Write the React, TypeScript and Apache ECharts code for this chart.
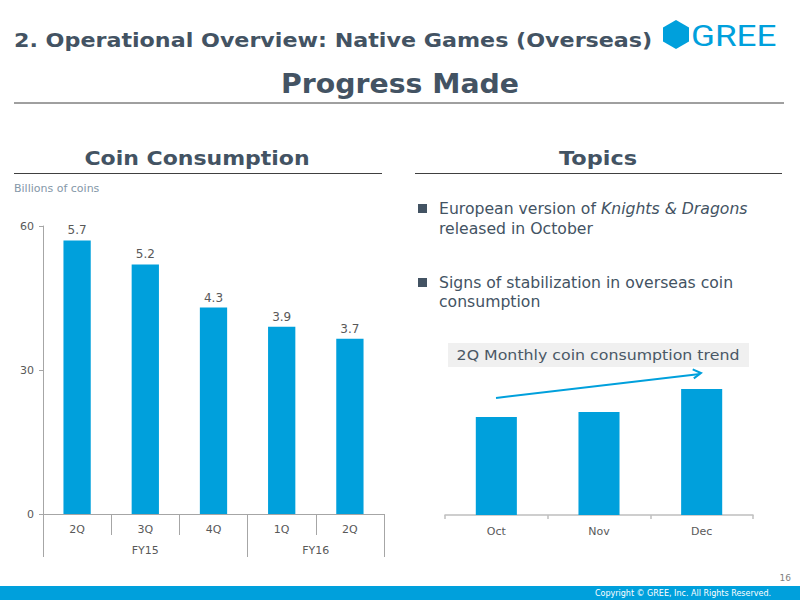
import React, { useEffect, useRef } from "react";
import * as echarts from "echarts";

const quarters = ["2Q", "3Q", "4Q", "1Q", "2Q"];
const fiscalYears = ["FY15", "FY16"];
const coinValues = [57, 52, 43, 39, 36.5];
const coinLabels = ["5.7", "5.2", "4.3", "3.9", "3.7"];
const yTicks = [0, 30, 60];
const months = ["Oct", "Nov", "Dec"];
const monthlyValues = [98, 103, 126];

const BLUE = "#00a0dc";
const SLATE = "#435363";
const GREY_TXT = "#595959";
const FONT = "'DejaVu Sans', Verdana, sans-serif";

export default function App() {
  const ref = useRef<HTMLDivElement>(null);
  useEffect(() => {
    if (!ref.current) return;
    const chart = echarts.init(ref.current, undefined, { renderer: "svg" });
    const option: any = {
      animation: false,
      backgroundColor: "#ffffff",
      textStyle: { fontFamily: FONT },
      grid: [
        { left: 43, top: 226, width: 341, height: 288 },
        { left: 445, top: 375, width: 308, height: 140 },
      ],
      xAxis: [
        {
          type: "category",
          gridIndex: 0,
          data: quarters,
          axisLine: { lineStyle: { color: "#a6a6a6", width: 1 } },
          axisTick: { show: true, length: 21, lineStyle: { color: "#a6a6a6" } },
          axisLabel: { color: GREY_TXT, fontSize: 11, margin: 10, fontFamily: FONT },
        },
        {
          type: "value",
          gridIndex: 0,
          position: "bottom",
          offset: 21,
          min: 0,
          max: 5,
          axisLine: { show: false },
          splitLine: { show: false },
          axisTick: {
            show: true,
            length: 22,
            customValues: [0, 3, 5],
            lineStyle: { color: "#a6a6a6" },
          },
          axisLabel: {
            customValues: [1.5, 4],
            color: GREY_TXT,
            fontSize: 11,
            margin: 10,
            fontFamily: FONT,
            formatter: (v: number) => (v < 3 ? fiscalYears[0] : fiscalYears[1]),
          },
        },
        {
          type: "category",
          gridIndex: 1,
          data: months,
          axisLine: { lineStyle: { color: "#bfbfbf", width: 1.5 } },
          axisTick: { show: true, length: 4, lineStyle: { color: "#bfbfbf", width: 1.5 } },
          axisLabel: { color: GREY_TXT, fontSize: 11, margin: 11, fontFamily: FONT },
        },
      ],
      yAxis: [
        {
          type: "value",
          gridIndex: 0,
          min: yTicks[0],
          max: yTicks[yTicks.length - 1],
          interval: yTicks[1] - yTicks[0],
          axisLine: { show: true, lineStyle: { color: "#a6a6a6" } },
          axisTick: { show: true, length: 4, lineStyle: { color: "#a6a6a6" } },
          splitLine: { show: false },
          axisLabel: { color: GREY_TXT, fontSize: 11, margin: 9, fontFamily: FONT },
        },
        {
          type: "value",
          gridIndex: 1,
          min: 0,
          max: 140,
          show: false,
          splitLine: { show: false },
        },
      ],
      series: [
        {
          type: "bar",
          xAxisIndex: 0,
          yAxisIndex: 0,
          data: coinValues,
          barWidth: "40%",
          itemStyle: { color: BLUE },
          label: {
            show: true,
            position: "top",
            distance: 4,
            color: GREY_TXT,
            fontSize: 12,
            fontFamily: FONT,
            formatter: (p: any) => coinLabels[p.dataIndex],
          },
        },
        {
          type: "bar",
          xAxisIndex: 2,
          yAxisIndex: 1,
          data: monthlyValues,
          barWidth: "40%",
          itemStyle: { color: BLUE },
        },
      ],
      graphic: [
        // header
        {
          type: "text",
          x: 14,
          y: 41,
          scaleX: 1.17,
          style: {
            text: "2. Operational Overview: Native Games (Overseas)",
            fill: SLATE,
            font: `bold 19px ${FONT}`,
            textVerticalAlign: "middle",
          },
        },
        {
          type: "polygon",
          shape: {
            points: [
              [676, 20],
              [689, 27.5],
              [689, 41.5],
              [676, 49],
              [663, 41.5],
              [663, 27.5],
            ],
          },
          style: { fill: BLUE },
        },
        {
          type: "text",
          x: 691,
          y: 36,
          scaleX: 1.17,
          style: {
            text: "GREE",
            fill: BLUE,
            font: `normal 30px Roboto, sans-serif`,
            textVerticalAlign: "middle",
          },
        },
        {
          type: "text",
          x: 400,
          y: 84,
          scaleX: 1.09,
          style: {
            text: "Progress Made",
            fill: SLATE,
            font: `bold 26px ${FONT}`,
            textAlign: "center",
            textVerticalAlign: "middle",
          },
        },
        { type: "line", shape: { x1: 14, y1: 103, x2: 784, y2: 103 }, style: { stroke: "#404040", lineWidth: 1 } },
        // section titles
        {
          type: "text",
          x: 197,
          y: 158,
          scaleX: 1.1,
          style: {
            text: "Coin Consumption",
            fill: SLATE,
            font: `bold 20px ${FONT}`,
            textAlign: "center",
            textVerticalAlign: "middle",
          },
        },
        { type: "line", shape: { x1: 14, y1: 173.5, x2: 382, y2: 173.5 }, style: { stroke: "#404040", lineWidth: 1 } },
        {
          type: "text",
          x: 598,
          y: 158,
          scaleX: 1.12,
          style: {
            text: "Topics",
            fill: SLATE,
            font: `bold 20px ${FONT}`,
            textAlign: "center",
            textVerticalAlign: "middle",
          },
        },
        { type: "line", shape: { x1: 415, y1: 173.5, x2: 782, y2: 173.5 }, style: { stroke: "#404040", lineWidth: 1 } },
        {
          type: "text",
          x: 14,
          y: 188,
          style: {
            text: "Billions of coins",
            fill: "#8497a8",
            font: `11px ${FONT}`,
            textVerticalAlign: "middle",
          },
        },
        // bullets
        { type: "rect", shape: { x: 418, y: 204, width: 9, height: 9 }, style: { fill: SLATE } },
        {
          type: "text",
          x: 439,
          y: 209,
          scaleX: 1.044,
          style: {
            text: "{n|European version of }{i|Knights & Dragons}",
            textVerticalAlign: "middle",
            rich: {
              n: { fill: SLATE, font: `15px ${FONT}` },
              i: { fill: SLATE, font: `italic 15px ${FONT}` },
            },
          },
        },
        {
          type: "text",
          x: 439,
          y: 229,
          scaleX: 1.044,
          style: { text: "released in October", fill: SLATE, font: `15px ${FONT}`, textVerticalAlign: "middle" },
        },
        { type: "rect", shape: { x: 418, y: 278, width: 9, height: 9 }, style: { fill: SLATE } },
        {
          type: "text",
          x: 439,
          y: 283,
          scaleX: 1.044,
          style: {
            text: "Signs of stabilization in overseas coin",
            fill: SLATE,
            font: `15px ${FONT}`,
            textVerticalAlign: "middle",
          },
        },
        {
          type: "text",
          x: 439,
          y: 302,
          scaleX: 1.044,
          style: { text: "consumption", fill: SLATE, font: `15px ${FONT}`, textVerticalAlign: "middle" },
        },
        // trend box
        { type: "rect", shape: { x: 448, y: 343, width: 301, height: 24 }, style: { fill: "#f0f0f0" } },
        {
          type: "text",
          x: 598,
          y: 355,
          scaleX: 1.17,
          style: {
            text: "2Q Monthly coin consumption trend",
            fill: "#4a5866",
            font: `13.5px ${FONT}`,
            textAlign: "center",
            textVerticalAlign: "middle",
          },
        },
        // arrow
        { type: "line", shape: { x1: 496, y1: 398, x2: 700, y2: 374 }, style: { stroke: BLUE, lineWidth: 2 } },
        {
          type: "polyline",
          shape: { points: [[692.7, 369.4], [701, 373], [693.8, 378.4]] },
          style: { stroke: BLUE, lineWidth: 2, fill: null },
        },
        // footer
        {
          type: "text",
          x: 791,
          y: 578,
          style: { text: "16", fill: "#7f7f7f", font: `9px ${FONT}`, textAlign: "right", textVerticalAlign: "middle" },
        },
        { type: "rect", shape: { x: 0, y: 586, width: 800, height: 14 }, style: { fill: BLUE } },
        {
          type: "text",
          x: 771,
          y: 593,
          style: {
            text: "Copyright © GREE, Inc. All Rights Reserved.",
            fill: "#ffffff",
            font: `8px ${FONT}`,
            textAlign: "right",
            textVerticalAlign: "middle",
          },
        },
      ],
    };
    chart.setOption(option);
    return () => chart.dispose();
  }, []);
  return (
    <div
      ref={ref}
      style={{ position: "fixed", left: 0, top: 0, width: 800, height: 600 }}
    />
  );
}
